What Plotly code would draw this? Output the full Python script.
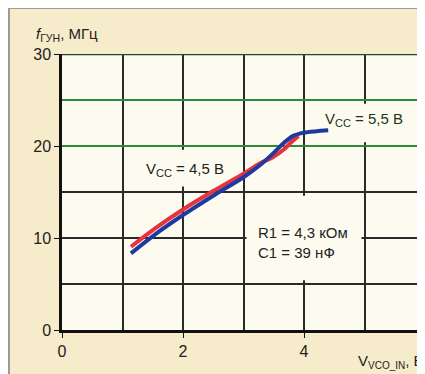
import plotly.graph_objects as go

# Data
vcc45_x = [1.14, 1.54, 2.0, 2.5, 3.0, 3.27, 3.49, 3.66, 3.82, 3.91]
vcc45_y = [9.05, 11.05, 13.1, 15.1, 17.0, 18.1, 18.8, 19.6, 20.6, 21.1]
vcc55_x = [1.14, 1.54, 2.0, 2.5, 3.0, 3.27, 3.49, 3.66, 3.82, 4.0, 4.21, 4.4]
vcc55_y = [8.33, 10.4, 12.5, 14.6, 16.6, 17.9, 19.2, 20.3, 21.1, 21.45, 21.6, 21.7]
x_ticks = [0, 2, 4, 6]
y_ticks = [0, 10, 20, 30]

FONT = "Liberation Sans, Arial, sans-serif"
BEIGE = "#f6ebca"
IVORY = "#fdfbef"
GRID = "#2b2b2b"
GREEN = "#2f8a3c"

W, H = 417, 366
ML, MT, MB = 54, 46, 44
PW, PH = W - ML, H - MT - MB


def px(x):
    return (x - ML) / PW


def py(y):
    return (H - MB - y) / PH


fig = go.Figure()
fig.add_trace(go.Scatter(x=vcc45_x, y=vcc45_y, mode="lines",
                         line=dict(color="#e8333c", width=4, shape="spline", smoothing=0.8),
                         showlegend=False))
fig.add_trace(go.Scatter(x=vcc55_x, y=vcc55_y, mode="lines",
                         line=dict(color="#1f3a9e", width=4, shape="spline", smoothing=0.8),
                         showlegend=False))

shapes = []
for yv in [20, 25]:
    shapes.append(dict(type="line", xref="x", yref="y", x0=0, x1=6, y0=yv, y1=yv,
                       line=dict(color=GREEN, width=2), layer="between"))
shapes.append(dict(type="line", xref="x", yref="y", x0=0, x1=6, y0=30, y1=30,
                   line=dict(color="#1f4a2a", width=2.5), layer="between"))
shapes.append(dict(type="rect", xref="x", yref="y", x0=1.15, x1=2.85, y0=15.6, y1=19.6,
                   fillcolor=IVORY, line=dict(width=0), layer="between"))
shapes.append(dict(type="rect", xref="x", yref="y", x0=4.15, x1=6, y0=20.4, y1=24.6,
                   fillcolor=IVORY, line=dict(width=0), layer="between"))
shapes.append(dict(type="rect", xref="x", yref="y", x0=3.05, x1=4.95, y0=5.4, y1=14.6,
                   fillcolor=IVORY, line=dict(width=0), layer="between"))
# frame border (left and top)
shapes.append(dict(type="line", xref="paper", yref="paper", x0=px(1), x1=px(1),
                   y0=py(H + 5), y1=py(0), line=dict(color="#9a9a9a", width=2), layer="below"))
shapes.append(dict(type="line", xref="paper", yref="paper", x0=px(0), x1=px(W + 5),
                   y0=py(0), y1=py(0), line=dict(color="#9a9a9a", width=2), layer="below"))

SUB = "<sub><span style='font-size:11px'>CC</span></sub>"
annotations = [
    dict(x=2.03, y=17.4, xref="x", yref="y", text="V" + SUB + " = 4,5 В", showarrow=False,
         font=dict(family=FONT, size=15, color="#222")),
    dict(x=4.99, y=22.9, xref="x", yref="y", text="V" + SUB + " = 5,5 В", showarrow=False,
         font=dict(family=FONT, size=15, color="#223322")),
    dict(x=3.2, y=9.5, xref="x", yref="y", text="R1 = 4,3 кОм<br>C1 = 39 нФ", showarrow=False,
         xanchor="left", align="left", font=dict(family=FONT, size=15, color="#222")),
    dict(x=px(26), y=py(27), xref="paper", yref="paper",
         text="<i>f</i><sub>ГУН</sub>, МГц", showarrow=False, xanchor="left", yanchor="middle",
         font=dict(family=FONT, size=15, color="#222")),
    dict(x=px(W + 1), y=py(353), xref="paper", yref="paper",
         text="V<sub><span style='font-size:10px'>VCO_IN</span></sub>, В", showarrow=False,
         xanchor="right", yanchor="middle", font=dict(family=FONT, size=15, color="#222")),
    # last x tick label, half cut at the right edge as in the reference
    dict(x=6, y=py(H - MB + 15), xref="x", yref="paper", text="6", showarrow=False,
         xanchor="center", yanchor="middle", font=dict(family=FONT, size=16, color="#222")),
]

fig.update_layout(
    width=W, height=H,
    margin=dict(l=ML, r=0, t=MT, b=MB, pad=0),
    paper_bgcolor=BEIGE, plot_bgcolor=IVORY,
    shapes=shapes, annotations=annotations,
    font=dict(family=FONT, size=16, color="#222"),
)
fig.update_xaxes(range=[0, 6], tickvals=x_ticks, showgrid=True, gridcolor=GRID, gridwidth=1.5,
                 minor=dict(dtick=1, tick0=0, showgrid=True, gridcolor=GRID, gridwidth=1.5),
                 showline=True, linecolor="#111", linewidth=2.5, ticks="outside", ticklen=5,
                 tickcolor="#111", zeroline=False, fixedrange=True,
                 tickfont=dict(family=FONT, size=16, color="#222"))
fig.update_yaxes(range=[0, 30], tickvals=y_ticks, showgrid=True, gridcolor=GRID, gridwidth=1.5,
                 minor=dict(dtick=5, tick0=0, showgrid=True, gridcolor=GRID, gridwidth=1.5),
                 showline=True, linecolor="#111", linewidth=2.5, ticks="outside", ticklen=5,
                 tickcolor="#111", zeroline=False, fixedrange=True,
                 tickfont=dict(family=FONT, size=16, color="#222"))

fig.write_html("out.html")
